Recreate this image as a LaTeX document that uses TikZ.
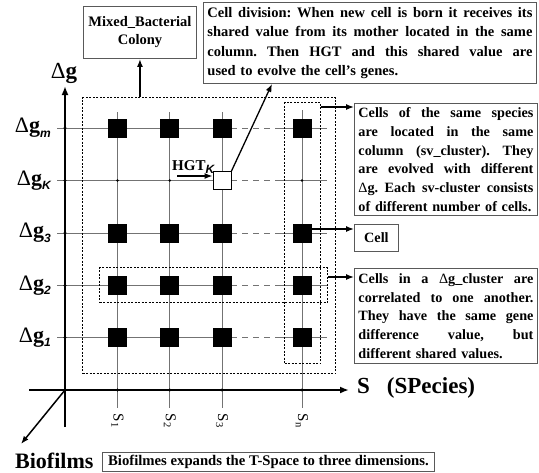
\documentclass[tikz,border=0pt]{standalone}
\usepackage{fontspec}
\setmainfont{Liberation Serif}
\newfontfamily\subsans{Liberation Sans}
\usetikzlibrary{arrows.meta,positioning}

% one stretched line of a justified box, and the last (natural) line
\newcommand{\jline}[1]{\hbox to\hsize{\frenchspacing\spaceskip=0.25em plus 0.8em minus 0.06em\relax #1}}
\newcommand{\lline}[1]{\hbox{\frenchspacing #1}}
% italic sans subscript of the axis labels
\newcommand{\gsub}[1]{\raisebox{-0.45ex}{\fontsize{12}{12}\selectfont\subsans\itshape #1}}

\begin{document}
\begin{tikzpicture}[x=1pt, y=-1pt,
  gridline/.style={draw=black!55, line width=1pt},
  gapline/.style={gridline, dash pattern=on 6pt off 5pt},
  axisline/.style={line width=1.8pt, -{Latex[length=9pt,width=7pt]}},
  cellsq/.style={fill=black, minimum size=19pt, inner sep=0pt},
  newcell/.style={draw=black, fill=white, line width=1pt, minimum size=18pt, inner sep=0pt},
  cluster/.style={draw, line width=1.1pt, dash pattern=on 2pt off 1.5pt, inner sep=0pt, anchor=north west},
  infobox/.style={draw=black!65, line width=0.9pt, inner xsep=4pt, inner ysep=2pt, anchor=north west,
    font=\fontsize{14.2}{18.7}\selectfont\bfseries},
  ptr/.style={-{Latex[length=8pt,width=6pt]}, line width=1.3pt},
  biglabel/.style={font=\fontsize{23}{27}\selectfont\bfseries, inner sep=0pt}
]
\useasboundingbox (0,0) rectangle (539,472);

% grid lines
\foreach \y in {128,180.5,233,285.5,337.5} {
  \draw[gridline] (57,\y) -- (231,\y);
  \draw[gapline] (231,\y) -- (277,\y);
  \draw[gridline] (277,\y) -- (327,\y);
}
\foreach \x in {117.5,169.8,222}
  \draw[gridline] (\x,112) -- (\x,408);
\draw[gridline] (302,110) -- (302,408);

% axes
\coordinate (sleft) at (29,390);
\coordinate (stip) at (349,390);
\coordinate (gbottom) at (65,427);
\coordinate (gtip) at (65,86);
\coordinate (origin) at (65,390);
\coordinate (btip) at (21,444);
\draw[axisline] (sleft) -- (stip);
\draw[axisline] (gbottom) -- (gtip);
\draw[ptr, line width=1.5pt] (origin) -- (btip);

% crossing dots
\foreach \y in {128,180.5,233,285.5,337.5}
  \fill (65,\y) circle (1.6pt);
\foreach \x in {117.5,169.8,222,302} {
  \fill (\x,390) circle (1.6pt);
  \fill (\x,180.5) circle (1.4pt);
}

% clusters
\node[cluster, minimum width=253pt, minimum height=276pt] (colony) at (82,97) {};
\node[cluster, minimum width=36pt, minimum height=261pt] (svclus) at (284,102) {};
\node[cluster, minimum width=228pt, minimum height=35pt] (gclus) at (99,267) {};

% cells
\foreach \c/\x in {1/117.5,2/169.8,3/222,n/302}
  \foreach \r/\y in {m/128,3/233,2/285.5,1/337.5}
    \node[cellsq] (sq-\c-\r) at (\x,\y) {};
\node[newcell] (newc) at (222,180.5) {};

% axis labels
\node[biglabel] (glabel) at (64,73) {\textmd{Δ}g};
\foreach \r/\y in {m/128,K/180.5,3/233,2/285.5,1/337.5}
  \node[biglabel, font=\fontsize{22}{26}\selectfont\bfseries, anchor=east] (g-\r) at (51,\y) {\textmd{Δ}g\gsub{\r}};
\foreach \c/\x in {1/117.5,2/169.8,3/222,n/302}
  \node[rotate=-90, font=\fontsize{15}{15}\selectfont, inner sep=0pt] (s-\c) at (\x,421) {S\textsubscript{\c}};
\node[biglabel, anchor=west] (slabel) at (357,388) {S\hspace{17pt}(SPecies)};
\node[biglabel, font=\fontsize{22}{26}\selectfont\bfseries, anchor=west] (biofilms) at (15,461) {Biofilms};

% HGT
\node[font=\fontsize{15}{15}\selectfont\bfseries, inner sep=0pt, anchor=base west] (hgt) at (172,170) {HGT\gsub{K}};
\coordinate (hgtstart) at (177,176);
\draw[ptr, line width=1.1pt] (hgtstart) -- ([yshift=4.5pt]newc.west);

% text boxes
\node[infobox, minimum width=113pt, minimum height=52pt, align=center,
  font=\fontsize{14.5}{18}\selectfont\bfseries] (mixed) at (83,6) {Mixed\_Bacterial\\Colony};
\node[infobox, text width=325pt, minimum height=81pt,
  font=\fontsize{14.5}{19.5}\selectfont\bfseries] (division) at (203,2) {%
  \jline{Cell division: When new cell is born it receives its}
  \jline{shared value from its mother located in the same}
  \jline{column. Then HGT and this shared value are}
  \lline{used to evolve the cell’s genes.}};
\node[infobox, text width=175pt, minimum height=112pt] (species) at (354,103) {%
  \jline{Cells of the same species}
  \jline{are located in the same}
  \jline{column (sv\_cluster). They}
  \jline{are evolved with different}
  \jline{\textmd{Δ}g. Each sv-cluster consists}
  \lline{of different number of cells.}};
\node[infobox, minimum width=44pt, minimum height=27pt] (cellbox) at (354,224) {Cell};
\node[infobox, text width=175pt, minimum height=95pt] (gbox) at (354,268) {%
  \jline{Cells in a \textmd{Δ}g\_cluster are}
  \jline{correlated to one another.}
  \jline{They have the same gene}
  \jline{difference value, but}
  \lline{different shared values.}};
\node[infobox, minimum width=332pt, minimum height=19pt, inner ysep=0.5pt, inner xsep=2pt,
  font=\fontsize{14.7}{16}\selectfont\bfseries] (biobox) at (102,452) {Biofilmes expands the T-Space to three dimensions.};

% pointers
\draw[ptr, line width=1.8pt] (colony.north -| mixed.south) -- (mixed.south);
\draw[ptr] (newc.north east) -- ([xshift=69pt]division.south west);
\draw[ptr] ([yshift=-5pt]svclus.north east) -- ([yshift=-5pt]svclus.north east -| species.west);
\draw[ptr] ([yshift=4pt]sq-n-3.east) -- ([yshift=4pt]sq-n-3.east -| cellbox.west);
\draw[ptr] ([yshift=-10pt]gclus.north east) -- ([yshift=-10pt]gclus.north east -| gbox.west);
\end{tikzpicture}
\end{document}
